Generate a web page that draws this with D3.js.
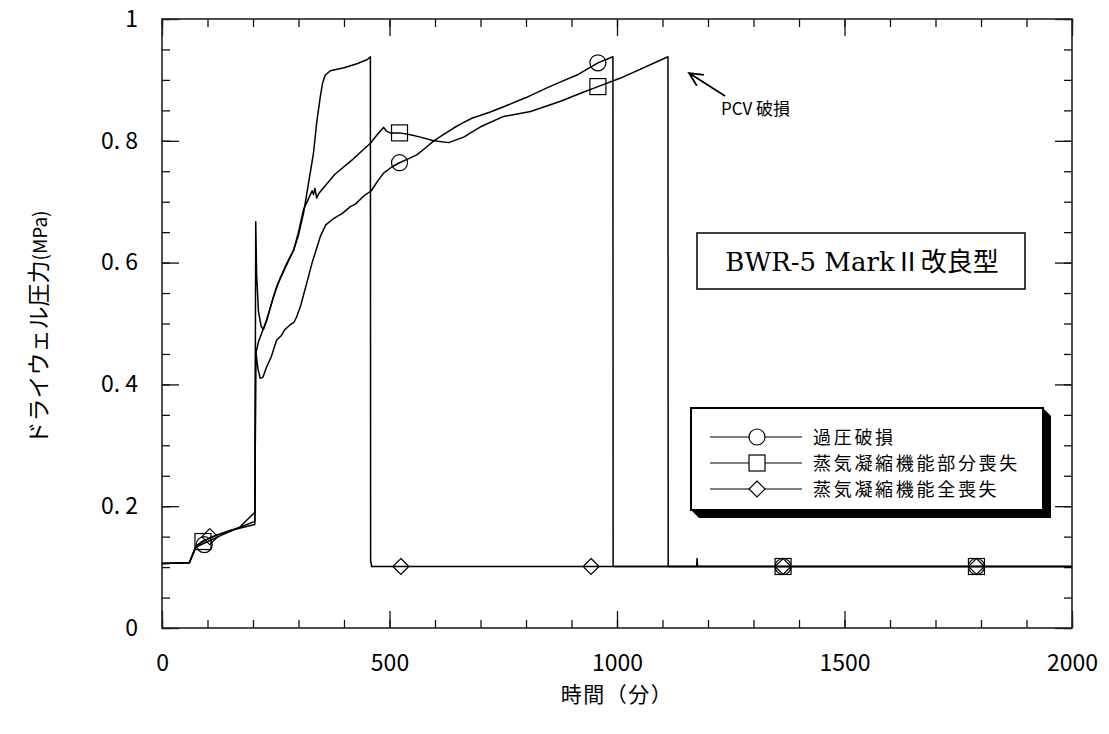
<!DOCTYPE html>
<html><head><meta charset="utf-8">
<script src="https://cdn.jsdelivr.net/npm/d3@7"></script>
<style>body{margin:0;background:#fff}</style>
</head><body><svg id="c" width="1109" height="734"></svg>
<script>
// ---------- data ----------
const seriesNames = ["過圧破損", "蒸気凝縮機能部分喪失", "蒸気凝縮機能全喪失"];
const seriesMarkers = ["circle", "square", "diamond"];

// 過圧破損 (circle)
const overTime = [0, 60, 75, 95, 130, 170, 204, 205, 206, 211, 216, 222, 230, 240, 252, 262, 270, 282, 290, 296, 305, 318, 330, 348, 360, 373, 385, 395, 414, 425, 443, 460, 475, 487, 505, 522, 540, 560, 580, 596, 620, 641, 660, 681, 720, 751, 800, 846, 880, 912, 958, 991, 991.5, 2000];
const overVal  = [0.106, 0.107, 0.133, 0.140, 0.152, 0.165, 0.190, 0.300, 0.455, 0.425, 0.410, 0.412, 0.429, 0.445, 0.473, 0.480, 0.490, 0.498, 0.502, 0.511, 0.530, 0.566, 0.600, 0.643, 0.662, 0.670, 0.676, 0.680, 0.692, 0.696, 0.709, 0.718, 0.735, 0.747, 0.757, 0.764, 0.770, 0.777, 0.789, 0.799, 0.811, 0.821, 0.829, 0.837, 0.847, 0.856, 0.871, 0.887, 0.898, 0.908, 0.928, 0.938, 0.101, 0.101];

// 蒸気凝縮機能部分喪失 (square)
const partTime = [0, 60, 75, 90, 130, 170, 204, 205, 206, 208, 212, 218, 223, 230, 245, 260, 275, 289, 300, 311, 322, 330, 333, 336, 340, 345, 380, 420, 458, 475, 487, 495, 502, 522, 546, 568, 597, 630, 663, 700, 751, 810, 876, 920, 958, 1008, 1112, 1112.5, 1175, 1176, 1177, 2000];
const partVal  = [0.106, 0.107, 0.135, 0.143, 0.155, 0.165, 0.175, 0.400, 0.667, 0.580, 0.520, 0.495, 0.490, 0.505, 0.544, 0.575, 0.600, 0.620, 0.650, 0.687, 0.705, 0.718, 0.712, 0.722, 0.706, 0.714, 0.745, 0.770, 0.796, 0.812, 0.822, 0.815, 0.813, 0.813, 0.810, 0.806, 0.800, 0.797, 0.806, 0.823, 0.840, 0.848, 0.865, 0.878, 0.889, 0.903, 0.938, 0.101, 0.101, 0.114, 0.101, 0.101];

// 蒸気凝縮機能全喪失 (diamond)
const fullTime = [0, 60, 75, 110, 150, 204, 205, 206, 212, 230, 252, 270, 289, 300, 311, 322, 333, 340, 348, 353, 359, 370, 400, 430, 450, 458, 458.5, 461, 2000];
const fullVal  = [0.106, 0.107, 0.135, 0.150, 0.160, 0.170, 0.300, 0.450, 0.470, 0.506, 0.561, 0.590, 0.620, 0.645, 0.681, 0.730, 0.780, 0.830, 0.873, 0.895, 0.908, 0.915, 0.920, 0.927, 0.933, 0.938, 0.110, 0.101, 0.101];

// marker positions
const overMarkT = [93, 522, 958, 1365, 1790];
const overMarkV = [0.137, 0.764, 0.928, 0.101, 0.101];
const partMarkT = [90, 522, 958, 1365, 1790];
const partMarkV = [0.142, 0.813, 0.889, 0.101, 0.101];
const fullMarkT = [105, 525, 943, 1365, 1790];
const fullMarkV = [0.150, 0.101, 0.101, 0.101, 0.101];

const xTicks = [0, 500, 1000, 1500, 2000];
const xMinorTicks = d3.range(0, 2001, 100);
const yTicks = [0, 0.2, 0.4, 0.6, 0.8, 1];
const yTickLabels = ["0", "0. 2", "0. 4", "0. 6", "0. 8", "1"];
const yMinorTicks = d3.range(0, 1.001, 0.05);

const xTitle = "時間（分）";
const yTitle = "ドライウェル圧力";
const yUnit = "(MPa)";
const boxTitleLatin = "BWR-5 Mark";
const boxTitleCJK = "Ⅱ改良型";
const annotation = "PCV 破損";

// ---------- drawing ----------
const svg = d3.select("#c");
const L = 162, R = 1072, T = 19, B = 628;
const x = d3.scaleLinear().domain([0, 2000]).range([L, R]);
const y = d3.scaleLinear().domain([0, 1]).range([B, T]);
const font = "'Noto Sans CJK JP', 'Noto Sans', sans-serif";

// minor ticks
const minorX = (g, axis) => g.call(axis.tickValues(xMinorTicks).tickSizeInner(-8).tickSizeOuter(0).tickFormat(""));
const minorY = (g, axis) => g.call(axis.tickValues(yMinorTicks).tickSizeInner(-8).tickSizeOuter(0).tickFormat(""));
svg.append("g").attr("transform", `translate(0,${B})`).call(g => minorX(g, d3.axisBottom(x)));
svg.append("g").attr("transform", `translate(0,${T})`).call(g => minorX(g, d3.axisTop(x)));
svg.append("g").attr("transform", `translate(${L},0)`).call(g => minorY(g, d3.axisLeft(y)));
svg.append("g").attr("transform", `translate(${R},0)`).call(g => minorY(g, d3.axisRight(y)));

// major ticks
svg.append("g").attr("transform", `translate(0,${B})`)
  .call(d3.axisBottom(x).tickValues(xTicks).tickSizeInner(-17).tickSizeOuter(0).tickPadding(27).tickFormat(d3.format("d")));
svg.append("g").attr("transform", `translate(0,${T})`)
  .call(d3.axisTop(x).tickValues(xTicks).tickSizeInner(-17).tickSizeOuter(0).tickFormat(""));
svg.append("g").attr("transform", `translate(${L},0)`)
  .call(d3.axisLeft(y).tickValues(yTicks).tickSizeInner(-17).tickSizeOuter(0).tickPadding(24).tickFormat((d, i) => yTickLabels[i]));
svg.append("g").attr("transform", `translate(${R},0)`)
  .call(d3.axisRight(y).tickValues(yTicks).tickSizeInner(-17).tickSizeOuter(0).tickFormat(""));

svg.selectAll(".domain").remove();
svg.selectAll(".tick line").attr("stroke", "#111").attr("stroke-width", 1.3);
svg.selectAll(".tick text").attr("font-family", font).attr("font-size", 23).attr("fill", "#000");

// frame
svg.append("rect").attr("x", L).attr("y", T).attr("width", R - L).attr("height", B - T)
  .attr("fill", "none").attr("stroke", "#222").attr("stroke-width", 1.6);

// series lines
const line = d3.line().x(d => x(d[0])).y(d => y(d[1]));
const seriesData = [
  d3.zip(overTime, overVal),
  d3.zip(partTime, partVal),
  d3.zip(fullTime, fullVal)
];
seriesData.forEach(d => {
  svg.append("path").datum(d).attr("d", line)
    .attr("fill", "none").attr("stroke", "#000").attr("stroke-width", 1.5).attr("stroke-linejoin", "round");
});

// markers
function drawMarker(g, type, cx, cy, fill) {
  if (type === "circle") {
    g.append("circle").attr("cx", cx).attr("cy", cy).attr("r", 8)
      .attr("fill", fill).attr("stroke", "#000").attr("stroke-width", 1.2);
  } else if (type === "square") {
    g.append("rect").attr("x", cx - 8).attr("y", cy - 8).attr("width", 16).attr("height", 16)
      .attr("fill", fill).attr("stroke", "#000").attr("stroke-width", 1.2);
  } else {
    g.append("path").attr("d", `M${cx},${cy - 8}L${cx + 8},${cy}L${cx},${cy + 8}L${cx - 8},${cy}Z`)
      .attr("fill", fill).attr("stroke", "#000").attr("stroke-width", 1.2);
  }
}
const markSets = [
  d3.zip(overMarkT, overMarkV),
  d3.zip(partMarkT, partMarkV),
  d3.zip(fullMarkT, fullMarkV)
];
const mg = svg.append("g");
markSets.forEach((set, i) => set.forEach(p => drawMarker(mg, seriesMarkers[i], x(p[0]), y(p[1]), "none")));

// axis titles
svg.append("text").attr("x", (L + R) / 2).attr("y", 702).attr("text-anchor", "middle")
  .attr("font-family", font).attr("font-size", 21).attr("letter-spacing", 1.5).text(xTitle);
const yt = svg.append("text").attr("transform", `translate(47,${(T + B) / 2 + 4}) rotate(-90)`)
  .attr("text-anchor", "middle").attr("font-family", font).attr("font-size", 23);
yt.append("tspan").text(yTitle);
yt.append("tspan").attr("font-size", 19).text(yUnit);

// title box
svg.append("rect").attr("x", 697).attr("y", 233).attr("width", 328).attr("height", 56)
  .attr("fill", "#fff").attr("stroke", "#111").attr("stroke-width", 1.6);
const tt = svg.append("text").attr("x", 862).attr("y", 271).attr("text-anchor", "middle").attr("font-size", 26);
tt.append("tspan").attr("font-family", "'DejaVu Serif', serif").text(boxTitleLatin);
tt.append("tspan").attr("font-family", font).attr("font-size", 26).text(boxTitleCJK);

// legend
const lx = 691, ly = 408, lw = 352, lh = 102, off = 8;
svg.append("path")
  .attr("d", `M${lx},${ly + lh}L${lx + off},${ly + lh + off}L${lx + lw + off},${ly + lh + off}L${lx + lw + off},${ly + off}L${lx + lw},${ly}Z`)
  .attr("fill", "#000");
svg.append("rect").attr("x", lx).attr("y", ly).attr("width", lw).attr("height", lh)
  .attr("fill", "#fff").attr("stroke", "#000").attr("stroke-width", 2);
const rowY = [437, 463, 489];
seriesNames.forEach((name, i) => {
  const g = svg.append("g");
  g.append("line").attr("x1", 710).attr("x2", 802).attr("y1", rowY[i]).attr("y2", rowY[i])
    .attr("stroke", "#000").attr("stroke-width", 1.2);
  drawMarker(g, seriesMarkers[i], 757, rowY[i], "#fff");
  g.append("text").attr("x", 813).attr("y", rowY[i] + 7).attr("font-family", font)
    .attr("font-size", 18).attr("letter-spacing", 2.7).text(name);
});

// annotation
svg.append("text").attr("x", 721).attr("y", 115).attr("font-family", font).attr("font-size", 17).text(annotation);
const tip = [689, 73], tail = [725, 96];
const ang = Math.atan2(tail[1] - tip[1], tail[0] - tip[0]);
const hl = 15, ha = 0.45;
svg.append("path")
  .attr("d", `M${tail[0]},${tail[1]}L${tip[0]},${tip[1]}M${tip[0] + hl * Math.cos(ang + ha)},${tip[1] + hl * Math.sin(ang + ha)}L${tip[0]},${tip[1]}L${tip[0] + hl * Math.cos(ang - ha)},${tip[1] + hl * Math.sin(ang - ha)}`)
  .attr("fill", "none").attr("stroke", "#000").attr("stroke-width", 1.8);
</script>
</body></html>
